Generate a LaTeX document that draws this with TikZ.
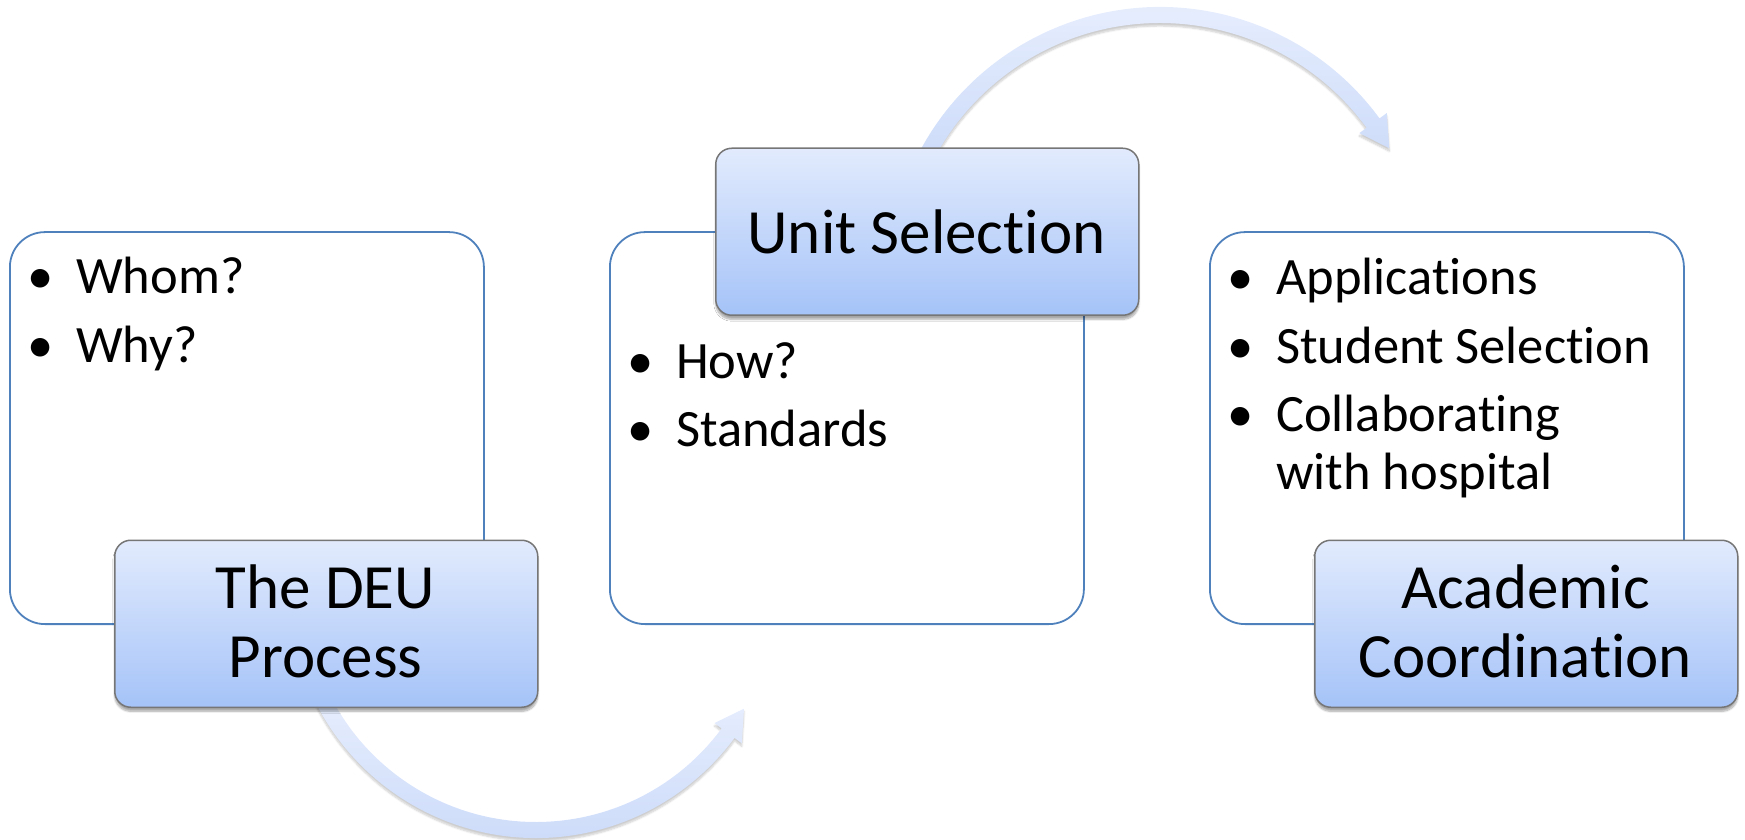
\documentclass[tikz,border=0pt]{standalone}
\usepackage{fontspec}
\setmainfont{Carlito}[Ligatures={NoCommon,NoRare,NoContextual},Contextuals={NoAlternate}]
\usetikzlibrary{shadows.blur}
\definecolor{edgeblue}{RGB}{79,129,189}
\definecolor{boxtop}{RGB}{226,235,253}
\definecolor{boxbot}{RGB}{165,195,248}
\definecolor{boxedge}{RGB}{118,118,118}
\definecolor{arrtop}{RGB}{235,241,254}
\definecolor{arrbot}{RGB}{200,216,249}
\newcommand{\noti}{t\kern0pt i}
\begin{document}
\begin{tikzpicture}[x=1pt,y=1pt,
  panel/.style={draw=edgeblue, line width=1.8pt, fill=white, rounded corners=35pt,
    minimum width=474pt, minimum height=392pt, anchor=south west, inner sep=0pt},
  titlebox/.style={draw=boxedge, line width=1.5pt, rounded corners=16pt,
    top color=boxtop, bottom color=boxbot,
    minimum width=423pt, minimum height=167pt, anchor=south west, inner sep=0pt,
    blur shadow={shadow xshift=0pt, shadow yshift=-4pt, shadow blur steps=8, shadow opacity=35}},
  titletext/.style={font=\fontsize{63}{69}\selectfont, anchor=base, inner sep=0pt},
  bullettext/.style={font=\fontsize{52.5}{58}\selectfont, anchor=base west, inner sep=0pt},
  bulletdot/.style={font=\fontsize{52.5}{58}\selectfont, anchor=base, inner sep=0pt},
  flowarrow/.style={top color=arrtop, bottom color=arrbot,
    blur shadow={shadow xshift=0pt, shadow yshift=-3pt, shadow blur steps=6, shadow opacity=20}}
]
\useasboundingbox (0,0) rectangle (1745,839);

% curved arrows (behind the boxes)
\begin{scope}[shift={(536,248)}]
  \coordinate (arrAstart) at (200:239);
  \coordinate (arrAtip) at (330.5:239);
  \shade[flowarrow] (200:247) arc[start angle=200, end angle=323.5, radius=247]
    -- (323.5:256) -- (arrAtip) -- (323.5:222) -- (323.5:231)
    arc[start angle=323.5, end angle=200, radius=231] -- cycle;
\end{scope}
\begin{scope}[shift={(1160,560)}]
  \coordinate (arrBstart) at (160:264);
  \coordinate (arrBtip) at (29.7:264);
  \shade[flowarrow] (160:272) arc[start angle=160, end angle=36.2, radius=272]
    -- (36.2:281) -- (arrBtip) -- (36.2:247) -- (36.2:256)
    arc[start angle=36.2, end angle=160, radius=256] -- cycle;
\end{scope}

% white panels
\node[panel] (p1) at (9,214) {};
\node[panel] (p2) at (609,214) {};
\node[panel] (p3) at (1209,214) {};

% bullets panel 1
\node[bulletdot] (b1a) at (41,545) {•};
\node[bullettext] (t1a) at (76,545) {Whom?};
\node[bulletdot] (b1b) at (41,476) {•};
\node[bullettext] (t1b) at (76,476) {Why?};

% bullets panel 2
\node[bulletdot] (b2a) at (641,460) {•};
\node[bullettext] (t2a) at (676,460) {How?};
\node[bulletdot] (b2b) at (641,392) {•};
\node[bullettext] (t2b) at (676,392) {Standards};

% bullets panel 3
\node[bulletdot] (b3a) at (1241,544) {•};
\node[bullettext] (t3a) at (1276,544) {Applica\noti ons};
\node[bulletdot] (b3b) at (1241,475) {•};
\node[bullettext] (t3b) at (1276,475) {Student Selec\noti on};
\node[bulletdot] (b3c) at (1241,407) {•};
\node[bullettext] (t3c) at (1276,407) {Collabora\noti ng};
\node[bullettext] (t3d) at (1276,349) {with hospital};

% title boxes
\node[titlebox] (h1) at (114,131) {};
\node[titletext] (h1a) at (325.5,231) {The DEU};
\node[titletext] (h1b) at (325.5,162) {Process};

\node[titlebox] (h2) at (715,523) {};
\node[titletext] (h2a) at (926.5,585) {Unit Selec\noti on};

\node[titlebox] (h3) at (1314,131) {};
\node[titletext] (h3a) at (1525.5,231) {Academic};
\node[titletext] (h3b) at (1525.5,162) {Coordina\noti on};
\end{tikzpicture}
\end{document}
